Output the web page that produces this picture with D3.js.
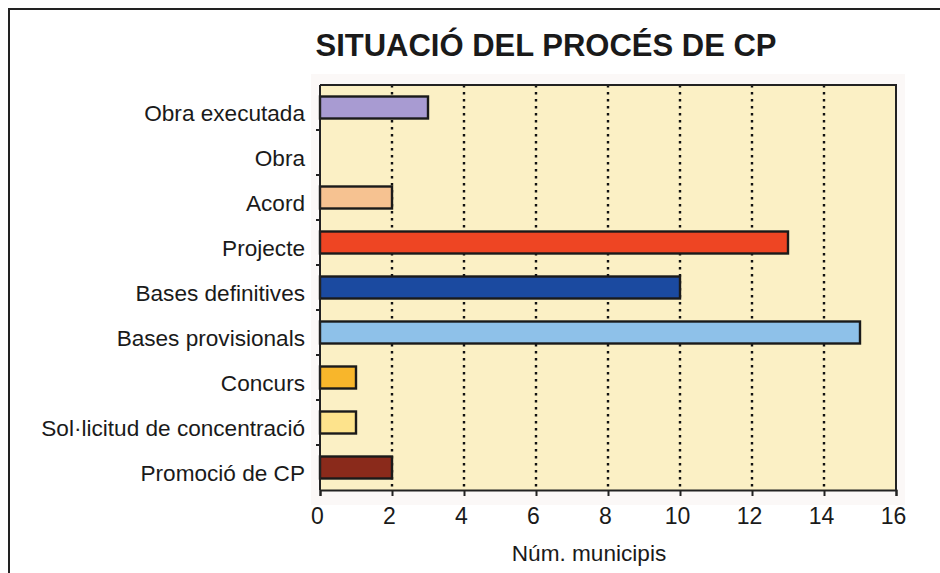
<!DOCTYPE html>
<html>
<head>
<meta charset="utf-8">
<script src="https://cdn.jsdelivr.net/npm/d3@7"></script>
<style>
  html, body { margin: 0; padding: 0; background: #fff; }
  svg { display: block; font-family: "Liberation Sans", Arial, sans-serif; }
</style>
</head>
<body>
<svg id="chart" width="940" height="573"></svg>
<script>
// ---- Data ----
const categories = ["Obra executada", "Obra", "Acord", "Projecte", "Bases definitives",
  "Bases provisionals", "Concurs", "Sol·licitud de concentració", "Promoció de CP"];
const values = [3, 0, 2, 13, 10, 15, 1, 1, 2];
const barColors = ["#a89bd2", "#ffffff", "#f6c291", "#ee4523", "#1b4aa0",
  "#8ec1e9", "#f8b62b", "#fde38c", "#8a2a1b"];
const xTicks = [0, 2, 4, 6, 8, 10, 12, 14, 16];
const titleText = "SITUACIÓ DEL PROCÉS DE CP";
const xAxisTitle = "Núm. municipis";

// ---- Layout ----
const svg = d3.select("#chart");
const plot = { left: 320, right: 896, top: 85, bottom: 490 };

const x = d3.scaleLinear().domain([0, 16]).range([plot.left, plot.right]);
const yb = d3.scaleBand().domain(categories).range([plot.top, plot.bottom]);

// outer frame
svg.append("path")
  .attr("d", `M9,573 L9,9 L940,9`)
  .attr("fill", "none").attr("stroke", "#222").attr("stroke-width", 2);

// title
svg.append("text")
  .attr("x", 546).attr("y", 56)
  .attr("text-anchor", "middle")
  .attr("font-weight", "bold")
  .attr("font-size", 31)
  .attr("fill", "#1a1a1a")
  .text(titleText);

// faint halo around plot
svg.append("rect")
  .attr("x", plot.left - 9).attr("y", plot.top - 11)
  .attr("width", plot.right - plot.left + 18).attr("height", plot.bottom - plot.top + 26)
  .attr("fill", "#fbf8f7");

// plot background
svg.append("rect")
  .attr("x", plot.left).attr("y", plot.top)
  .attr("width", plot.right - plot.left).attr("height", plot.bottom - plot.top)
  .attr("fill", "#fbf0c5");

// dotted gridlines
svg.append("g").selectAll("line")
  .data(xTicks.filter(d => d > 0 && d < 16))
  .join("line")
  .attr("x1", d => x(d)).attr("x2", d => x(d))
  .attr("y1", plot.top).attr("y2", plot.bottom)
  .attr("stroke", "#111").attr("stroke-width", 2.4)
  .attr("stroke-dasharray", "2.5,4.5");

// bars
svg.append("g").selectAll("rect")
  .data(categories.map((c, i) => ({ c, v: values[i], col: barColors[i] })).filter(d => d.v > 0))
  .join("rect")
  .attr("x", x(0))
  .attr("y", d => yb(d.c) + yb.bandwidth() / 2 - 11)
  .attr("width", d => x(d.v) - x(0))
  .attr("height", 22)
  .attr("fill", d => d.col)
  .attr("stroke", "#1a1a1a").attr("stroke-width", 2.4);

// plot border (top, right)
svg.append("path")
  .attr("d", `M${plot.left},${plot.top} L${plot.right},${plot.top} L${plot.right},${plot.bottom}`)
  .attr("fill", "none").attr("stroke", "#222").attr("stroke-width", 2);

// x axis
const xAxis = d3.axisBottom(x).tickValues(xTicks).tickSize(6).tickPadding(12).tickFormat(d3.format("d"));
const gx = svg.append("g").attr("transform", `translate(0,${plot.bottom})`).call(xAxis);
gx.select(".domain").attr("stroke", "#222").attr("stroke-width", 2);
gx.selectAll(".tick line").attr("stroke", "#222").attr("stroke-width", 2);
gx.selectAll(".tick text").attr("font-size", 23).attr("fill", "#1a1a1a")
  .attr("font-family", "Liberation Sans, Arial, sans-serif").attr("dx", -3);

// y axis: line + ticks at band boundaries
svg.append("line")
  .attr("x1", plot.left).attr("x2", plot.left)
  .attr("y1", plot.top).attr("y2", plot.bottom)
  .attr("stroke", "#222").attr("stroke-width", 2);
svg.append("g").selectAll("line")
  .data(categories.slice(1))
  .join("line")
  .attr("x1", plot.left - 4).attr("x2", plot.left + 1)
  .attr("y1", d => yb(d)).attr("y2", d => yb(d))
  .attr("stroke", "#222").attr("stroke-width", 2);

// category labels
svg.append("g").selectAll("text")
  .data(categories)
  .join("text")
  .attr("x", 305)
  .attr("y", d => yb(d) + yb.bandwidth() / 2 + 13)
  .attr("text-anchor", "end")
  .attr("font-size", 22.6)
  .attr("fill", "#1a1a1a")
  .text(d => d);

// x axis title
svg.append("text")
  .attr("x", 589).attr("y", 561)
  .attr("text-anchor", "middle")
  .attr("font-size", 22.6)
  .attr("fill", "#1a1a1a")
  .text(xAxisTitle);
</script>
</body>
</html>
